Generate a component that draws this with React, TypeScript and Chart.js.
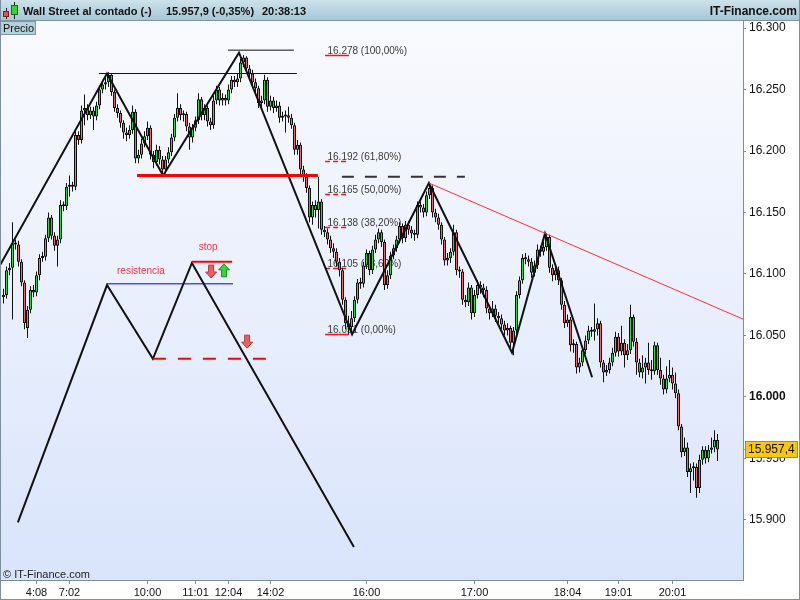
import React, { useEffect, useRef } from 'react';
import { Chart, registerables } from 'chart.js';

Chart.register(...registerables);

const FF = '"Liberation Sans", Arial, sans-serif';
const GREEN = '#3fd43f';
const RED = '#e86a6a';
const AXIS = '#7d8f9c';

// ---- candle data (one candle per slot) ----
const opens = [16081,16083,16103,16105,16125,16124,16110,16093,16056,16071,
 16087,16085,16099,16113,16114,16129,16146,16131,16123,16128,
 16156,16155,16171,16172,16171,16213,16209,16233,16235,16229,
 16233,16228,16237,16250,16254,16256,16262,16248,16235,16231,
 16223,16215,16213,16217,16232,16194,16197,16206,16212,16219,
 16197,16191,16201,16193,16185,16193,16199,16211,16227,16235,
 16229,16230,16220,16211,16219,16225,16242,16229,16235,16224,
 16221,16241,16250,16241,16243,16241,16250,16258,16256,16259,
 16272,16276,16267,16263,16256,16251,16239,16241,16258,16236,
 16241,16235,16237,16227,16228,16229,16227,16221,16201,16205,
 16185,16179,16170,16146,16156,16152,16159,16136,16134,16128,
 16121,16118,16110,16103,16079,16060,16057,16064,16079,16093,
 16092,16107,16117,16103,16120,16128,16134,16126,16091,16099,
 16115,16121,16128,16139,16129,16140,16136,16133,16132,16156,
 16154,16150,16164,16170,16150,16146,16140,16128,16111,16113,
 16118,16134,16103,16102,16079,16077,16089,16068,16083,16091,
 16089,16087,16072,16068,16072,16066,16064,16059,16054,16056,
 16044,16054,16083,16095,16113,16112,16110,16101,16107,16120,
 16118,16122,16130,16105,16099,16103,16095,16075,16060,16063,
 16042,16043,16024,16028,16038,16046,16054,16053,16055,16060,
 16028,16020,16022,16028,16036,16049,16037,16044,16034,16038,
 16065,16045,16028,16020,16024,16028,16022,16021,16042,16022,
 16015,16006,16015,16018,16011,16003,15976,15955,15959,15939,
 15942,15943,15926,15949,15957,15950,15957,15959,15965];

const closes = [16083,16103,16105,16125,16124,16110,16093,16060,16071,16087,
 16085,16099,16113,16114,16129,16146,16131,16123,16128,16156,
 16155,16171,16172,16171,16213,16209,16233,16235,16229,16233,
 16228,16237,16250,16254,16256,16262,16248,16235,16231,16223,
 16215,16213,16217,16232,16194,16197,16206,16212,16219,16197,
 16191,16201,16193,16185,16193,16199,16211,16227,16235,16229,
 16230,16220,16211,16219,16225,16242,16229,16235,16224,16221,
 16241,16250,16241,16243,16241,16250,16258,16256,16259,16272,
 16276,16267,16263,16256,16251,16239,16241,16258,16236,16241,
 16235,16237,16227,16228,16229,16227,16221,16201,16205,16185,
 16179,16170,16146,16156,16152,16159,16136,16134,16128,16121,
 16118,16110,16103,16079,16060,16057,16064,16079,16093,16092,
 16107,16117,16103,16120,16128,16134,16126,16091,16099,16115,
 16121,16128,16139,16129,16140,16136,16133,16132,16156,16154,
 16150,16164,16170,16150,16146,16140,16128,16111,16113,16118,
 16134,16103,16102,16079,16077,16089,16068,16083,16091,16089,
 16087,16072,16068,16072,16066,16064,16059,16054,16056,16044,
 16054,16083,16095,16113,16112,16110,16101,16107,16120,16118,
 16122,16130,16105,16099,16103,16095,16075,16060,16063,16042,
 16043,16024,16028,16038,16046,16054,16053,16055,16060,16028,
 16020,16022,16028,16036,16049,16037,16044,16034,16038,16065,
 16045,16028,16020,16024,16028,16022,16021,16042,16022,16015,
 16006,16015,16018,16011,16003,15976,15955,15959,15939,15942,
 15943,15926,15949,15957,15950,15957,15959,15965,15957.4];

const highs = [16088,16106,16109,16142,16128,16127,16112,16095,16074,16090,
 16091,16102,16116,16118,16132,16150,16148,16134,16131,16160,
 16159,16174,16180,16175,16216,16216,16237,16246,16238,16236,
 16236,16240,16253,16258,16260,16264,16263,16250,16238,16233,
 16225,16219,16221,16237,16234,16201,16210,16216,16224,16221,
 16200,16205,16204,16196,16196,16203,16214,16230,16247,16238,
 16233,16232,16223,16222,16228,16247,16244,16238,16237,16227,
 16245,16253,16252,16247,16246,16254,16261,16261,16263,16275,
 16278,16277,16270,16266,16259,16253,16245,16262,16260,16245,
 16244,16241,16240,16232,16233,16236,16230,16223,16209,16207,
 16188,16182,16172,16159,16160,16179,16161,16139,16137,16131,
 16125,16121,16113,16105,16081,16066,16070,16082,16096,16097,
 16110,16120,16119,16123,16132,16137,16136,16128,16103,16118,
 16124,16131,16142,16141,16143,16143,16139,16136,16159,16159,
 16157,16167,16174,16172,16153,16149,16142,16130,16117,16121,
 16140,16136,16106,16104,16083,16093,16091,16087,16095,16094,
 16092,16090,16075,16078,16075,16069,16067,16062,16060,16058,
 16057,16086,16098,16116,16117,16115,16113,16111,16124,16123,
 16126,16133,16132,16108,16107,16106,16097,16078,16067,16065,
 16047,16045,16032,16041,16050,16058,16057,16076,16064,16062,
 16030,16026,16032,16040,16053,16052,16058,16047,16043,16075,
 16067,16048,16031,16034,16032,16044,16030,16045,16044,16032,
 16018,16025,16030,16024,16020,16006,15978,15967,15963,15946,
 15947,15946,15953,15960,15960,15961,15967,15973,15970];

const lows = [16076,16080,16099,16063,16120,16106,16090,16055,16048,16068,
 16081,16082,16095,16110,16111,16126,16128,16119,16106,16125,
 16151,16152,16163,16167,16168,16205,16206,16221,16225,16226,
 16217,16225,16234,16247,16250,16252,16245,16232,16227,16219,
 16210,16208,16210,16214,16190,16190,16194,16203,16209,16193,
 16186,16188,16189,16180,16182,16190,16196,16208,16224,16225,
 16224,16216,16201,16207,16216,16222,16225,16225,16220,16217,
 16218,16238,16237,16237,16237,16238,16247,16252,16252,16256,
 16268,16263,16259,16252,16247,16235,16236,16238,16232,16233,
 16231,16232,16223,16224,16215,16223,16218,16197,16197,16181,
 16175,16166,16142,16140,16146,16137,16132,16130,16124,16117,
 16113,16106,16098,16075,16055,16051,16053,16061,16076,16088,
 16089,16104,16099,16100,16117,16125,16122,16087,16088,16096,
 16112,16118,16125,16125,16126,16132,16129,16127,16129,16150,
 16146,16147,16161,16146,16142,16136,16124,16107,16107,16109,
 16115,16099,16097,16075,16073,16074,16063,16065,16080,16084,
 16081,16068,16063,16065,16061,16060,16055,16050,16050,16040,
 16034,16051,16080,16092,16108,16106,16097,16098,16104,16114,
 16115,16119,16101,16094,16095,16091,16071,16056,16057,16037,
 16036,16019,16020,16025,16035,16043,16049,16046,16050,16024,
 16012,16017,16019,16025,16033,16033,16034,16024,16030,16035,
 16041,16018,16016,16015,16011,16018,16014,16018,16018,16010,
 16002,16003,16012,16006,15999,15973,15951,15952,15935,15922,
 15932,15918,15922,15945,15946,15947,15954,15955,15948];

// ---- axes ----
const tickIdx = [11, 22, 48, 64, 75, 89, 121, 157, 188, 205, 223];
const tickLbl = ['4:08', '7:02', '10:00', '11:01', '12:04', '14:02', '16:00', '17:00', '18:04', '19:01', '20:01'];
const yTicks = [15900, 15950, 16000, 16050, 16100, 16150, 16200, 16250, 16300];
const X_MIN = -1.1667;
const X_MAX = 246.5;
const Y_MIN = 15851.2;
const Y_MAX = 16305.7;

// ---- header ----
const headerParts = ['Wall Street al contado (-)', '15.957,9 (-0,35%)', '20:38:13'];
const headerPartX = [23, 166, 262];

// ---- drawings ----
const zigX = [-1.17, 34.5, 53.2, 78.5, 116.2, 141.8, 169.5, 180.5, 196.2];
const zigY = [16107, 16263, 16180, 16280, 16051, 16174, 16036, 16133, 16016];
const schemX = [4.8, 34.5, 49.8, 62.8, 116.8];
const schemY = [15898, 16091, 16031, 16109, 15878];
const resistX = [34.5, 76.5];
const resistY = [16092, 16092];
const stopX = [62.8, 76.2];
const stopY = [16110, 16110];
const lowDashX = [49.8, 88.2];
const lowDashY = [16031, 16031];
const supportX = [44.5, 104.8];
const supportY = [16180, 16180];
const peak1X = [31.8, 97.8];
const peak1Y = [16263, 16263];
const peak2X = [74.8, 96.8];
const peak2Y = [16282, 16282];
const neckX = [112.8, 153.8];
const neckY = [16179, 16179];
const trendX = [141.8, 246.5];
const trendY = [16174, 16063.3];

const fibVals = [16278, 16192, 16165, 16138, 16105, 16051];
const fibPct = ['100,00%', '61,80%', '50,00%', '38,20%', '23,60%', '0,00%'];
const fibSolid = [true, false, false, false, false, true];
const fibLine = [107.2, 115.2];
const fibTextIdx = 108;

const noteText = ['resistencia', 'stop'];
const noteIdx = [45.8, 68.2];
const noteVal = [16102, 16122];

const arrowIdx = [69.2, 73.5, 81.2];
const arrowVal = [16102, 16103, 16045];
const arrowDir = ['down', 'up', 'down'];

function fmtY(v: number) {
  const s = Math.round(v).toString();
  return s.slice(0, s.length - 3) + '.' + s.slice(-3);
}
function fmtPrice(v: number) {
  const int = Math.floor(v);
  const dec = Math.round((v - int) * 10);
  return fmtY(int) + ',' + dec;
}

function drawArrow(ctx: CanvasRenderingContext2D, cx: number, cy: number, dir: string) {
  const h = 13, hw = 5.5, sw = 2.5, headH = 6;
  const top = cy - h / 2, bot = cy + h / 2;
  ctx.beginPath();
  if (dir === 'down') {
    ctx.moveTo(cx - sw, top); ctx.lineTo(cx + sw, top); ctx.lineTo(cx + sw, bot - headH);
    ctx.lineTo(cx + hw, bot - headH); ctx.lineTo(cx, bot); ctx.lineTo(cx - hw, bot - headH);
    ctx.lineTo(cx - sw, bot - headH); ctx.closePath();
    ctx.fillStyle = '#e86060'; ctx.strokeStyle = '#b83a3a';
  } else {
    ctx.moveTo(cx - sw, bot); ctx.lineTo(cx + sw, bot); ctx.lineTo(cx + sw, top + headH);
    ctx.lineTo(cx + hw, top + headH); ctx.lineTo(cx, top); ctx.lineTo(cx - hw, top + headH);
    ctx.lineTo(cx - sw, top + headH); ctx.closePath();
    ctx.fillStyle = '#3bd13b'; ctx.strokeStyle = '#1f8f1f';
  }
  ctx.fill();
  ctx.lineWidth = 1;
  ctx.stroke();
}

const bgPlugin = {
  id: 'bgPlugin',
  beforeDraw(chart: any) {
    const { ctx, chartArea: a, width, height } = chart;
    ctx.save();
    ctx.fillStyle = '#ffffff';
    ctx.fillRect(0, 0, width, height);
    const g = ctx.createLinearGradient(0, a.top, 0, a.bottom);
    g.addColorStop(0, '#f9fafe');
    g.addColorStop(1, '#d9e4fb');
    ctx.fillStyle = g;
    ctx.fillRect(a.left, a.top, a.right - a.left, a.bottom - a.top);
    // header
    const hg = ctx.createLinearGradient(0, 0, 0, 20);
    hg.addColorStop(0, '#cde2eb');
    hg.addColorStop(1, '#a6c7d5');
    ctx.fillStyle = hg;
    ctx.fillRect(0, 0, width, 20);
    ctx.fillStyle = '#7d95a3';
    ctx.fillRect(0, 20, width, 1);
    // icon
    ctx.fillStyle = '#222';
    ctx.fillRect(6, 8, 1, 11);
    ctx.fillRect(14, 2, 1, 17);
    ctx.fillStyle = '#e85050';
    ctx.fillRect(3, 11, 6, 6);
    ctx.strokeStyle = '#7a2020';
    ctx.lineWidth = 1;
    ctx.strokeRect(3.5, 11.5, 5, 5);
    ctx.fillStyle = '#3bd13b';
    ctx.fillRect(11, 5, 7, 10);
    ctx.strokeStyle = '#1a6a1a';
    ctx.strokeRect(11.5, 5.5, 6, 9);
    // header text
    ctx.fillStyle = '#111';
    ctx.font = `bold 11px ${FF}`;
    ctx.textBaseline = 'alphabetic';
    ctx.textAlign = 'left';
    headerParts.forEach((t, k) => ctx.fillText(t, headerPartX[k], 15));
    ctx.font = `bold 12px ${FF}`;
    ctx.textAlign = 'right';
    ctx.fillText('IT-Finance.com', 797, 15);
    ctx.restore();
  },
};

const fibPlugin = {
  id: 'fibPlugin',
  beforeDatasetsDraw(chart: any) {
    const { ctx } = chart;
    const x = chart.scales.x, y = chart.scales.y;
    ctx.save();
    ctx.font = `10px ${FF}`;
    ctx.textBaseline = 'alphabetic';
    ctx.textAlign = 'left';
    fibVals.forEach((v, k) => {
      const py = Math.round(y.getPixelForValue(v)) + 0.5;
      const x0 = x.getPixelForValue(fibLine[0]);
      const x1 = x.getPixelForValue(fibLine[1]);
      ctx.strokeStyle = '#ff1010';
      ctx.lineWidth = 1.5;
      ctx.setLineDash(fibSolid[k] ? [] : [5, 3]);
      ctx.beginPath();
      ctx.moveTo(x0, py);
      ctx.lineTo(x1, py);
      ctx.stroke();
      ctx.fillStyle = '#3a3a3a';
      ctx.fillText(`${fmtY(v)} (${fibPct[k]})`, x.getPixelForValue(fibTextIdx), py - 2);
    });
    ctx.restore();
  },
};

const overlayPlugin = {
  id: 'overlayPlugin',
  afterDatasetsDraw(chart: any) {
    const { ctx, chartArea: a } = chart;
    const x = chart.scales.x, y = chart.scales.y;
    ctx.save();
    ctx.font = `10px ${FF}`;
    ctx.textAlign = 'center';
    ctx.textBaseline = 'middle';
    ctx.fillStyle = '#f23444';
    noteText.forEach((t, k) => {
      ctx.fillText(t, x.getPixelForValue(noteIdx[k]), y.getPixelForValue(noteVal[k]));
    });
    arrowIdx.forEach((ix, k) => {
      drawArrow(ctx, x.getPixelForValue(ix), y.getPixelForValue(arrowVal[k]), arrowDir[k]);
    });
    // Precio box
    ctx.fillStyle = '#b5d0dd';
    ctx.fillRect(0, a.top, 35, 13);
    ctx.strokeStyle = '#7f98a6';
    ctx.lineWidth = 1;
    ctx.strokeRect(0.5, a.top + 0.5, 35, 13);
    ctx.fillStyle = '#111';
    ctx.font = `11px ${FF}`;
    ctx.textAlign = 'left';
    ctx.textBaseline = 'alphabetic';
    ctx.fillText('Precio', 3, a.top + 11);
    // copyright
    ctx.fillStyle = '#222';
    ctx.fillText('\u00A9 IT-Finance.com', 3, a.bottom - 2);
    ctx.restore();
  },
  afterDraw(chart: any) {
    const { ctx, chartArea: a, width, height } = chart;
    const y = chart.scales.y;
    const last = closes[closes.length - 1];
    const py = Math.round(y.getPixelForValue(last));
    ctx.save();
    ctx.fillStyle = '#f9c80e';
    ctx.fillRect(745, py - 8, 52, 16);
    ctx.strokeStyle = '#8c8c70';
    ctx.lineWidth = 1;
    ctx.strokeRect(745.5, py - 7.5, 52, 16);
    ctx.fillStyle = '#111';
    ctx.font = `12px ${FF}`;
    ctx.textAlign = 'left';
    ctx.textBaseline = 'middle';
    ctx.fillText(fmtPrice(last), 748, py + 0.5);
    ctx.fillStyle = AXIS;
    ctx.fillRect(a.right, py, 3, 1);
    // frame
    ctx.fillRect(0, 0, 1, height);
    ctx.fillRect(width - 1, 0, 1, height);
    ctx.fillRect(0, height - 1, width, 1);
    ctx.restore();
  },
};

export default function App() {
  const ref = useRef<HTMLCanvasElement>(null);
  useEffect(() => {
    document.body.style.margin = '0';
    const canvas = ref.current;
    if (!canvas) return;
    const idx = closes.map((_, i) => i);
    const wick = idx.map((i) => ({ x: i, y: [lows[i], highs[i]] }));
    const body = idx.map((i) => ({ x: i, y: [opens[i], closes[i]] }));
    const bodyCol = idx.map((i) => (closes[i] >= opens[i] ? GREEN : RED));

    const seg = (xs: number[], ys: number[], color: string, w: number, dash: number[] = []) => ({
      type: 'line' as const,
      data: xs.map((v, k) => ({ x: v, y: ys[k] })),
      borderColor: color,
      borderWidth: w,
      borderDash: dash,
      borderCapStyle: 'butt',
      pointRadius: 0,
      fill: false,
      tension: 0,
      order: 0,
    });

    const chart = new Chart(canvas, {
      type: 'bar',
      data: {
        datasets: [
          {
            type: 'bar',
            data: wick as any,
            backgroundColor: '#111',
            borderWidth: 0,
            barThickness: 1,
            grouped: false,
            inflateAmount: 0,
            order: 3,
          } as any,
          {
            type: 'bar',
            data: body as any,
            backgroundColor: bodyCol,
            borderColor: '#111',
            borderWidth: 1,
            borderSkipped: false,
            barThickness: 3,
            minBarLength: 2,
            grouped: false,
            inflateAmount: 0,
            order: 2,
          } as any,
          seg(supportX, supportY, '#ff0000', 3) as any,
          seg(peak1X, peak1Y, '#111', 1) as any,
          seg(peak2X, peak2Y, '#111', 1) as any,
          seg(neckX, neckY, '#333', 2, [12, 11]) as any,
          seg(trendX, trendY, '#ff3030', 1) as any,
          seg(resistX, resistY, '#0000cc', 1) as any,
          seg(stopX, stopY, '#ff0000', 2) as any,
          seg(lowDashX, lowDashY, '#ff0000', 2, [13, 12]) as any,
          seg(zigX, zigY, '#111', 2) as any,
          seg(schemX, schemY, '#111', 2) as any,
        ],
      },
      options: {
        responsive: false,
        animation: false,
        devicePixelRatio: 1,
        events: [],
        layout: { padding: { top: 21, left: 0, right: 0, bottom: 0 } },
        plugins: {
          legend: { display: false },
          tooltip: { enabled: false },
        },
        scales: {
          x: {
            type: 'linear',
            min: X_MIN,
            max: X_MAX,
            offset: false,
            bounds: 'data',
            grid: { display: true, drawOnChartArea: false, drawTicks: true, tickLength: 4, color: AXIS, offset: false },
            border: { display: true, color: AXIS },
            ticks: {
              font: { family: FF, size: 11 },
              color: '#111',
              padding: 2,
              maxRotation: 0,
              autoSkip: false,
              callback: (_v: any, i: number) => tickLbl[i],
            },
            afterBuildTicks: (s: any) => {
              s.ticks = tickIdx.map((v) => ({ value: v }));
            },
            afterFit: (s: any) => {
              s.height = 20;
            },
          },
          y: {
            type: 'linear',
            position: 'right',
            min: Y_MIN,
            max: Y_MAX,
            bounds: 'data',
            beginAtZero: false,
            grid: { display: true, drawOnChartArea: false, drawTicks: true, tickLength: 3, color: AXIS },
            border: { display: true, color: AXIS },
            ticks: {
              font: (c: any) => ({ family: FF, size: 12, weight: c.tick && c.tick.value === 16000 ? 'bold' : 'normal' }),
              color: '#111',
              padding: 3,
              autoSkip: false,
              callback: (v: any) => fmtY(Number(v)),
            },
            afterBuildTicks: (s: any) => {
              s.ticks = yTicks.map((v) => ({ value: v }));
            },
            afterFit: (s: any) => {
              s.width = 57;
            },
          },
        },
      } as any,
      plugins: [bgPlugin, fibPlugin, overlayPlugin],
    });
    return () => chart.destroy();
  }, []);
  return (
    <div style={{ width: 800, height: 600 }}>
      <canvas ref={ref} width={800} height={600} style={{ display: 'block' }} />
    </div>
  );
}
